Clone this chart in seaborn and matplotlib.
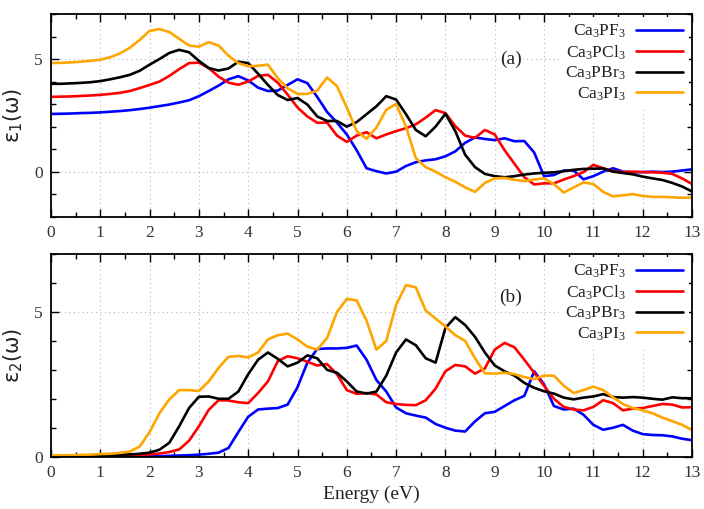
import numpy as np
import pandas as pd
import matplotlib
matplotlib.use("Agg")
import matplotlib.pyplot as plt
from matplotlib.ticker import MultipleLocator
import seaborn as sns

# ---------------- data ----------------
energy = [0.0, 0.2, 0.4, 0.6, 0.8, 1.0, 1.2, 1.4, 1.6, 1.8,
          2.0, 2.2, 2.4, 2.6, 2.8, 3.0, 3.2, 3.4, 3.6, 3.8,
          4.0, 4.2, 4.4, 4.6, 4.8, 5.0, 5.2, 5.4, 5.6, 5.8,
          6.0, 6.2, 6.4, 6.6, 6.8, 7.0, 7.2, 7.4, 7.6, 7.8,
          8.0, 8.2, 8.4, 8.6, 8.8, 9.0, 9.2, 9.4, 9.6, 9.8,
          10.0, 10.2, 10.4, 10.6, 10.8, 11.0, 11.2, 11.4, 11.6, 11.8,
          12.0, 12.2, 12.4, 12.6, 12.8, 13.0]

compounds = ["Ca$_3$PF$_3$", "Ca$_3$PCl$_3$", "Ca$_3$PBr$_3$", "Ca$_3$PI$_3$"]
colors = ["#0000ff", "#ff0000", "#000000", "#ffa500"]

eps1_PF3 = [2.56, 2.57, 2.58, 2.60, 2.61, 2.63, 2.66, 2.69, 2.73, 2.78,
            2.84, 2.91, 2.98, 3.07, 3.17, 3.35, 3.58, 3.82, 4.10, 4.24,
            4.05, 3.73, 3.58, 3.60, 3.85, 4.10, 3.93, 3.32, 2.65, 2.18,
            1.65, 0.95, 0.15, 0.02, -0.08, 0.00, 0.25, 0.42, 0.50, 0.55,
            0.68, 0.90, 1.28, 1.52, 1.45, 1.40, 1.48, 1.35, 1.36, 0.85,
            -0.20, -0.15, 0.05, 0.05, -0.34, -0.20, 0.00, 0.15, 0.00, -0.03,
            -0.02, 0.00, -0.02, 0.00, 0.05, 0.10]
eps1_PCl3 = [3.32, 3.33, 3.34, 3.36, 3.38, 3.41, 3.45, 3.50, 3.58, 3.71,
             3.85, 4.00, 4.25, 4.55, 4.82, 4.84, 4.60, 4.22, 3.95, 3.86,
             4.00, 4.25, 4.30, 3.95, 3.42, 2.85, 2.45, 2.17, 2.18, 1.60,
             1.32, 1.60, 1.75, 1.48, 1.65, 1.80, 1.93, 2.10, 2.40, 2.73,
             2.60, 2.02, 1.60, 1.50, 1.85, 1.65, 0.95, 0.35, -0.25, -0.57,
             -0.52, -0.52, -0.35, -0.20, -0.02, 0.30, 0.15, 0.02, -0.02, 0.00,
             -0.02, -0.03, -0.05, -0.10, -0.30, -0.55]
eps1_PBr3 = [3.90, 3.90, 3.92, 3.94, 3.97, 4.02, 4.10, 4.19, 4.30, 4.48,
             4.75, 5.00, 5.27, 5.41, 5.30, 4.92, 4.60, 4.49, 4.58, 4.88,
             4.82, 4.35, 3.85, 3.40, 3.18, 3.27, 2.98, 2.45, 2.25, 2.25,
             2.00, 2.20, 2.55, 2.90, 3.35, 3.20, 2.55, 1.85, 1.57, 2.00,
             2.57, 1.80, 0.75, 0.20, -0.10, -0.20, -0.25, -0.20, -0.13, -0.08,
             -0.05, -0.03, 0.02, 0.08, 0.12, 0.13, 0.14, 0.00, -0.06, -0.12,
             -0.22, -0.30, -0.37, -0.50, -0.66, -0.88]
eps1_PI3 = [4.82, 4.83, 4.85, 4.88, 4.92, 4.97, 5.08, 5.25, 5.50, 5.85,
            6.25, 6.33, 6.20, 5.90, 5.60, 5.55, 5.75, 5.60, 5.15, 4.82,
            4.68, 4.70, 4.75, 4.15, 3.70, 3.45, 3.45, 3.60, 4.18, 3.80,
            2.85, 1.80, 1.46, 1.95, 2.75, 3.00, 2.00, 0.60, 0.20, 0.00,
            -0.25, -0.45, -0.70, -0.90, -0.50, -0.30, -0.28, -0.36, -0.42, -0.35,
            -0.30, -0.55, -0.93, -0.70, -0.48, -0.55, -0.90, -1.10, -1.05, -1.00,
            -1.08, -1.12, -1.12, -1.14, -1.16, -1.15]

eps2_PF3 = [0.00, 0.00, 0.00, 0.00, 0.00, 0.00, 0.01, 0.01, 0.01, 0.01,
            0.02, 0.02, 0.03, 0.04, 0.05, 0.07, 0.10, 0.14, 0.30, 0.85,
            1.38, 1.63, 1.66, 1.68, 1.80, 2.40, 3.25, 3.72, 3.74, 3.74,
            3.76, 3.84, 3.35, 2.65, 2.25, 1.70, 1.50, 1.42, 1.35, 1.13,
            1.00, 0.90, 0.87, 1.22, 1.50, 1.55, 1.75, 1.95, 2.10, 2.95,
            2.50, 1.75, 1.63, 1.66, 1.45, 1.10, 0.93, 1.00, 1.10, 0.90,
            0.78, 0.75, 0.74, 0.70, 0.62, 0.57]
eps2_PCl3 = [0.02, 0.02, 0.02, 0.02, 0.02, 0.03, 0.03, 0.04, 0.05, 0.06,
             0.08, 0.11, 0.16, 0.25, 0.55, 1.05, 1.62, 1.95, 1.94, 1.88,
             1.85, 2.20, 2.60, 3.30, 3.47, 3.40, 3.28, 3.15, 3.20, 2.85,
             2.30, 2.17, 2.20, 2.15, 1.88, 1.82, 1.79, 1.78, 1.95, 2.35,
             2.95, 3.17, 3.12, 2.87, 3.05, 3.70, 3.93, 3.78, 3.35, 2.90,
             2.45, 2.00, 1.72, 1.63, 1.60, 1.72, 1.95, 1.85, 1.60, 1.66,
             1.68, 1.75, 1.82, 1.80, 1.70, 1.71]
eps2_PBr3 = [0.02, 0.02, 0.02, 0.03, 0.03, 0.04, 0.05, 0.06, 0.08, 0.10,
             0.14, 0.24, 0.48, 1.05, 1.68, 2.07, 2.08, 2.00, 2.00, 2.25,
             2.85, 3.35, 3.60, 3.38, 3.12, 3.25, 3.50, 3.40, 3.00, 2.90,
             2.60, 2.25, 2.18, 2.25, 2.80, 3.60, 4.05, 3.85, 3.40, 3.25,
             4.45, 4.82, 4.55, 4.14, 3.60, 3.15, 2.95, 2.80, 2.55, 2.38,
             2.26, 2.18, 2.04, 1.98, 2.04, 2.08, 2.16, 2.06, 2.04, 2.06,
             2.04, 2.00, 1.97, 2.05, 2.02, 2.02]
eps2_PI3 = [0.05, 0.05, 0.05, 0.06, 0.07, 0.09, 0.10, 0.13, 0.18, 0.35,
            0.85, 1.50, 1.98, 2.30, 2.30, 2.27, 2.60, 3.07, 3.45, 3.48,
            3.43, 3.60, 4.05, 4.20, 4.25, 4.05, 3.80, 3.70, 4.10, 5.00,
            5.45, 5.40, 4.70, 3.70, 4.00, 5.25, 5.93, 5.85, 5.05, 4.77,
            4.50, 4.20, 4.00, 3.40, 2.88, 2.87, 2.90, 2.85, 2.75, 2.68,
            2.80, 2.80, 2.45, 2.20, 2.30, 2.42, 2.30, 2.05, 1.82, 1.68,
            1.60, 1.50, 1.35, 1.23, 1.10, 0.92]

panel_a = [eps1_PF3, eps1_PCl3, eps1_PBr3, eps1_PI3]
panel_b = [eps2_PF3, eps2_PCl3, eps2_PBr3, eps2_PI3]

# ---------------- style ----------------
sns.set_style("ticks")
plt.rcParams.update({
    "font.family": ["Liberation Serif", "DejaVu Serif"],
    "mathtext.fontset": "custom",
    "mathtext.rm": "Liberation Serif",
    "mathtext.it": "Liberation Serif:italic",
    "mathtext.sf": "DejaVu Sans",
    "axes.edgecolor": "black",
    "axes.linewidth": 1.3,
    "xtick.color": "black",
    "ytick.color": "black",
    "text.color": "#222222",
})

fig = plt.figure(figsize=(7.04, 5.09), dpi=100)
ax1 = fig.add_axes([0.0724, 0.5743, 0.9105, 0.3982])
ax2 = fig.add_axes([0.0724, 0.1028, 0.9105, 0.3980])


def draw(ax, series, ylim, ylabel, tag, tag_y):
    for vals, lab, col in zip(series, compounds, colors):
        sns.lineplot(x=energy, y=vals, color=col, lw=1.9, label=lab, ax=ax,
                     estimator=None, sort=False)
    ax.set_xlim(0, 13)
    ax.set_ylim(*ylim)
    ax.xaxis.set_major_locator(MultipleLocator(1))
    ax.xaxis.set_minor_locator(MultipleLocator(0.5))
    ax.yaxis.set_major_locator(MultipleLocator(5))
    ax.yaxis.set_minor_locator(MultipleLocator(1))
    ax.tick_params(which="both", direction="in", top=True, right=True,
                   width=1.0, labelsize=12.5, colors="black")
    ax.tick_params(which="major", length=6, pad=6)
    ax.tick_params(which="minor", length=3.5)
    for lab in ax.get_xticklabels() + ax.get_yticklabels():
        lab.set_color("#333333")
    ax.grid(True, which="major", linestyle=(0, (1, 3)), color="#b5b5b5", lw=0.8)
    ax.set_axisbelow(True)
    ax.set_xlabel("")
    ax.set_ylabel(ylabel, family="DejaVu Sans", fontsize=15, color="#222222")
    ax.yaxis.set_label_coords(-0.042, 0.5)
    ax.text(9.33, tag_y, tag, fontsize=14, ha="center", va="center",
            bbox=dict(facecolor="white", edgecolor="none", pad=1.0))
    leg = ax.legend(loc="upper right", markerfirst=False, frameon=True,
                    facecolor="white", edgecolor="none", framealpha=1,
                    fancybox=False, handlelength=2.7, fontsize=12.5,
                    labelspacing=0.18, borderaxespad=0.15, borderpad=0.35,
                    handletextpad=0.6)
    for t in leg.get_texts():
        t.set_ha("right")


draw(ax1, panel_a, (-2, 7), "ε$_\\mathsf{1}$(ω)", "(a)", 5.0)
draw(ax2, panel_b, (0, 7), "ε$_\\mathsf{2}$(ω)", "(b)", 5.5)

ax2.set_xlabel("Energy (eV)", fontsize=14, color="#222222")
ax2.xaxis.set_label_coords(0.5, -0.145)

fig.savefig("out.png", dpi=100)
